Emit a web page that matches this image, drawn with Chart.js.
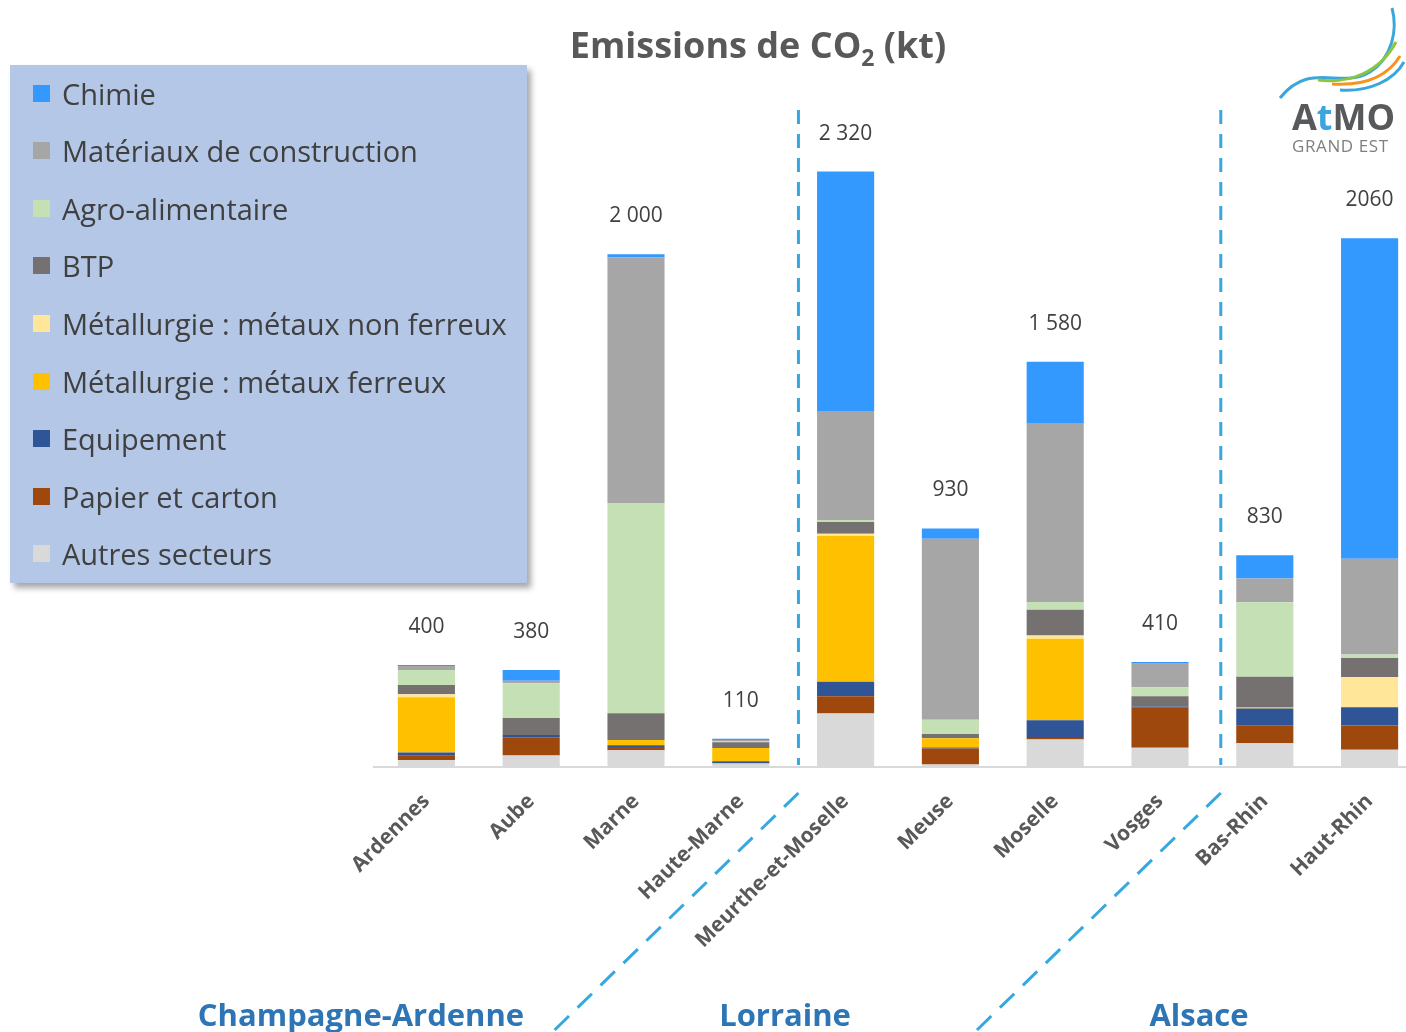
<!DOCTYPE html>
<html>
<head>
<meta charset="utf-8">
<script src="https://cdn.jsdelivr.net/npm/chart.js@4/dist/chart.umd.min.js"></script>
<style>
  html, body { margin: 0; padding: 0; width: 1406px; height: 1032px; overflow: hidden; background: #fff; font-family: "Open Sans", sans-serif; }
  #chart { position: absolute; left: 0; top: 0; }
  #title { position: absolute; left: 0; width: 1516px; top: 21px; text-align: center; font-weight: 700; font-size: 36px; color: #595959; line-height: 48px; }
  #title sub { font-size: 23px; vertical-align: -8px; line-height: 0; }
  #legend { position: absolute; left: 10px; top: 65px; width: 517px; height: 518px; background: #B4C7E7; box-shadow: 4px 5px 6px rgba(0,0,0,0.35); }
  .item { position: absolute; left: 23px; height: 36px; display: flex; align-items: center; font-size: 29px; color: #404040; white-space: nowrap; }
  .item span { display: inline-block; width: 17px; height: 17px; margin-right: 12px; }
  .region { position: absolute; top: 993px; font-weight: 700; font-size: 31px; color: #2E75B6; transform: translateX(-50%); white-space: nowrap; }
  #logo { position: absolute; left: 1270px; top: 0; }
</style>
</head>
<body>
<canvas id="chart" width="1422" height="1032"></canvas>
<div id="title">Emissions de CO<sub>2</sub> (kt)</div>
<div id="legend"></div>
<div class="region" style="left:361px">Champagne-Ardenne</div>
<div class="region" style="left:785px">Lorraine</div>
<div class="region" style="left:1199px">Alsace</div>
<svg id="logo" width="136" height="160" viewBox="0 0 136 160">
  <path d="M10 98 C 40 60, 70 90, 100 72 C 122 58, 128 30, 122 8" fill="none" stroke="#3AA6DD" stroke-width="3"/>
  <path d="M48 80 C 80 84, 110 72, 126 42" fill="none" stroke="#8CC63F" stroke-width="3"/>
  <path d="M62 84 C 95 86, 118 76, 130 56" fill="none" stroke="#F7941D" stroke-width="3"/>
  <path d="M70 90 C 100 92, 124 80, 134 62" fill="none" stroke="#3AA6DD" stroke-width="3"/>
  <text x="22" y="130" font-family="Open Sans" font-weight="700" font-size="36" fill="#58595B">A<tspan fill="#3AA6DD">t</tspan>MO</text>
  <text x="22" y="152" font-family="Open Sans" font-size="17" letter-spacing="0.6" fill="#7F7F7F">GRAND EST</text>
</svg>
<script>
let departements = ["Ardennes", "Aube", "Marne", "Haute-Marne", "Meurthe-et-Moselle", "Meuse", "Moselle", "Vosges", "Bas-Rhin", "Haut-Rhin"];
let totalLabels = ["400", "380", "2 000", "110", "2 320", "930", "1 580", "410", "830", "2060"];

// kt per sector
let chimie       = [4, 42, 13, 5, 936, 40, 242, 4, 90, 1249];
let materiaux    = [16, 10, 957, 6, 422, 706, 695, 94, 93, 373];
let agro         = [58, 135, 819, 3, 8, 55, 30, 35, 290, 14];
let btp          = [36, 66, 105, 22, 46, 17, 100, 40, 120, 74];
let nonFerreux   = [12, 0, 0, 0, 9, 0, 13, 0, 0, 118];
let ferreux      = [215, 0, 20, 52, 568, 36, 318, 0, 4, 0];
let equipement   = [13, 9, 7, 8, 56, 4, 69, 5, 67, 71];
let papier       = [17, 71, 13, 0, 67, 62, 6, 156, 68, 95];
let autres       = [27, 45, 65, 14, 209, 10, 107, 75, 93, 67];

let sectorNames  = ["Chimie", "Matériaux de construction", "Agro-alimentaire", "BTP", "Métallurgie : métaux non ferreux", "Métallurgie : métaux ferreux", "Equipement", "Papier et carton", "Autres secteurs"];
let sectorData   = [chimie, materiaux, agro, btp, nonFerreux, ferreux, equipement, papier, autres];
let sectorColors = ["#3399FF", "#A6A6A6", "#C5E0B4", "#767171", "#FFE699", "#FFC000", "#2F5597", "#9E480E", "#D9D9D9"];

// legend (top to bottom)
let legend = document.getElementById("legend");
sectorNames.forEach((name, i) => {
  let div = document.createElement("div");
  div.className = "item";
  div.style.top = (10 + i * 57.6) + "px";
  div.innerHTML = `<span style="background:${sectorColors[i]}"></span>${name}`;
  legend.appendChild(div);
});

// stacked from the bottom: Autres first
let datasets = [];
for (let i = sectorNames.length - 1; i >= 0; i--) {
  datasets.push({
    label: sectorNames[i],
    data: sectorData[i],
    backgroundColor: sectorColors[i],
    borderWidth: 0,
    barPercentage: 0.545,
    categoryPercentage: 1
  });
}

let totalsPlugin = {
  id: "totals",
  afterDatasetsDraw: (chart) => {
    let c = chart.ctx;
    let xs = chart.scales.x, ys = chart.scales.y;
    c.save();
    c.font = "21px 'Open Sans'";
    c.fillStyle = "#404040";
    c.textAlign = "center";
    c.textBaseline = "middle";
    departements.forEach((d, i) => {
      let sum = sectorData.reduce((s, arr) => s + arr[i], 0);
      c.fillText(totalLabels[i], xs.getPixelForValue(i), ys.getPixelForValue(sum) - 38);
    });
    c.restore();
  }
};

let separatorPlugin = {
  id: "separators",
  afterDraw: (chart) => {
    let c = chart.ctx;
    let xs = chart.scales.x;
    c.save();
    c.strokeStyle = "#35A8E0";
    c.lineWidth = 3;
    [3.55, 7.58].forEach((pos) => {
      let x = xs.getPixelForValue(pos);
      c.setLineDash([14, 10]);
      c.beginPath();
      c.moveTo(x, 110);
      c.lineTo(x, 765);
      c.stroke();
      c.setLineDash([20, 12]);
      c.beginPath();
      c.moveTo(x, 793);
      c.lineTo(x - 250, 1036);
      c.stroke();
    });
    c.restore();
  }
};

let myChart = new Chart(document.getElementById("chart"), {
  type: "bar",
  data: { labels: departements, datasets: datasets },
  plugins: [totalsPlugin, separatorPlugin],
  options: {
    responsive: false,
    animation: false,
    layout: { padding: { left: 374, right: 0, top: 100, bottom: 0 } },
    plugins: { legend: { display: false }, tooltip: { enabled: false }, title: { display: false } },
    scales: {
      x: {
        stacked: true,
        grid: { display: false, drawTicks: false },
        border: { display: true, color: "#D9D9D9", width: 2 },
        ticks: {
          minRotation: 45, maxRotation: 45, padding: 22,
          color: "#595959",
          font: { family: "Open Sans", size: 21, weight: "bold" }
        },
        afterFit: (scale) => { scale.height = 265; }
      },
      y: {
        stacked: true, display: false, min: 0, max: 2600
      }
    }
  }
});
</script>
</body>
</html>
